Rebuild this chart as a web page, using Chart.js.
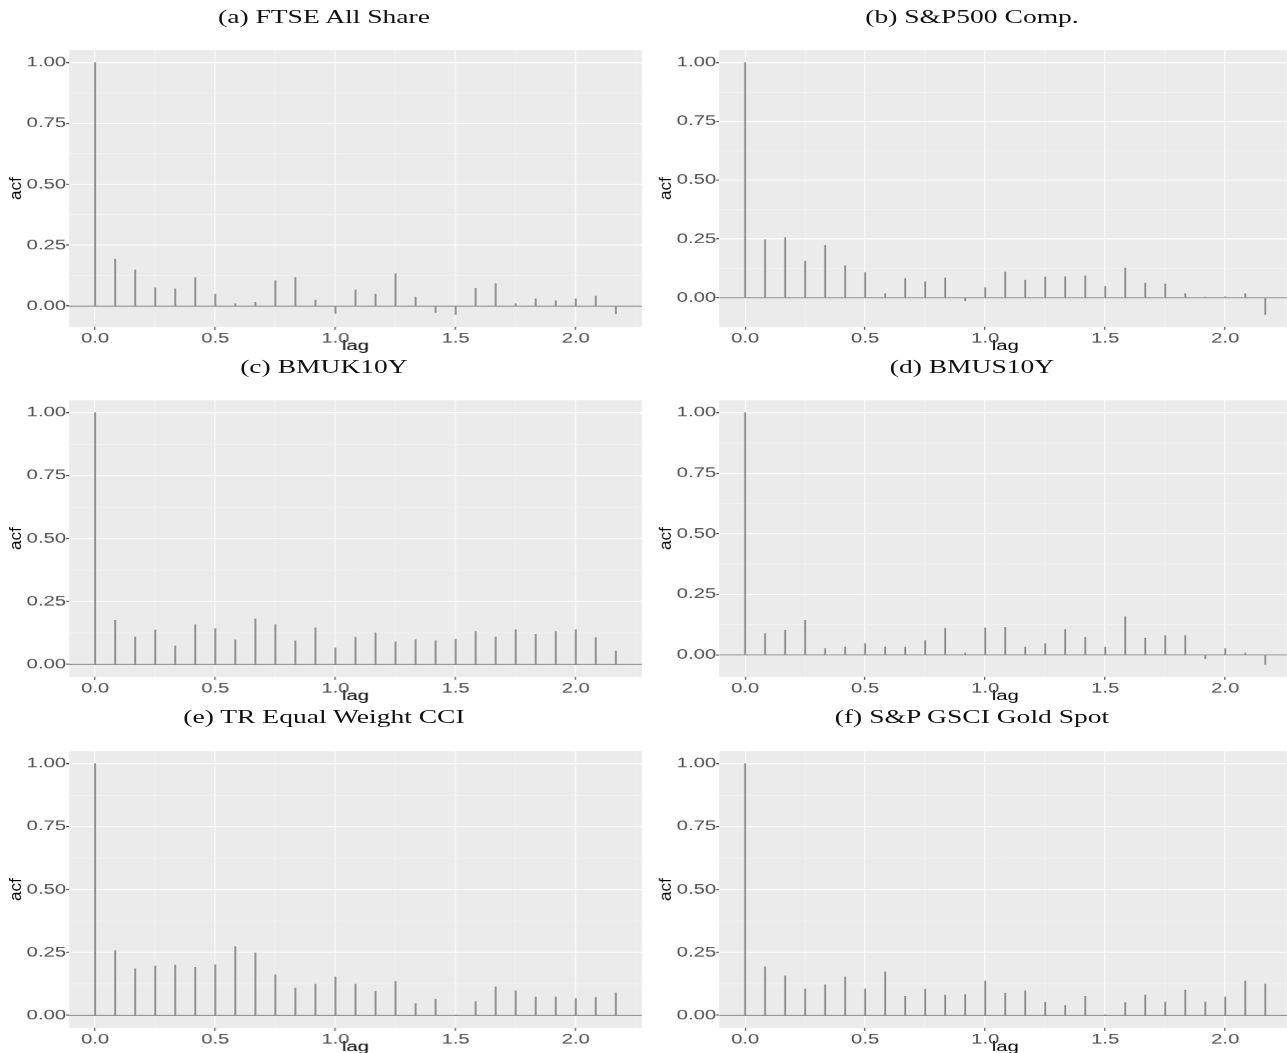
<!DOCTYPE html>
<html>
<head>
<meta charset="utf-8">
<script src="https://cdn.jsdelivr.net/npm/chart.js@4/dist/chart.umd.min.js"></script>
<style>
  html, body { margin: 0; padding: 0; background: #ffffff; overflow: hidden; width: 1287px; height: 1053px; }
  #stage { position: absolute; left: 0; top: 0; height: 1053px; transform-origin: 0 0; }
  #stage canvas { position: absolute; }
  .cap { position: absolute; width: 400px; text-align: center; font-family: "Liberation Serif", "Times New Roman", serif;
         font-size: 19px; line-height: 20px; color: #111; white-space: nowrap; }
</style>
</head>
<body>
<div id="stage"></div>
<script>
// Lags in years (monthly steps)
const lags = [0, 0.0833, 0.1667, 0.25, 0.3333, 0.4167, 0.5, 0.5833, 0.6667, 0.75, 0.8333, 0.9167,
              1, 1.0833, 1.1667, 1.25, 1.3333, 1.4167, 1.5, 1.5833, 1.6667, 1.75, 1.8333, 1.9167,
              2, 2.0833, 2.1667];

// Sample autocorrelations per series
const acfFTSE   = [1, 0.193, 0.148, 0.075, 0.071, 0.117, 0.049, 0.010, 0.016, 0.104, 0.118, 0.025,
                   -0.030, 0.066, 0.049, 0.133, 0.037, -0.026, -0.034, 0.073, 0.092, 0.010, 0.030,
                   0.022, 0.030, 0.041, -0.032];
const acfSP500  = [1, 0.247, 0.256, 0.155, 0.222, 0.136, 0.107, 0.018, 0.081, 0.068, 0.084, -0.014,
                   0.043, 0.109, 0.075, 0.088, 0.089, 0.092, 0.048, 0.126, 0.062, 0.058, 0.018,
                   0.002, 0.004, 0.017, -0.071];
const acfBMUK   = [1, 0.175, 0.109, 0.137, 0.073, 0.158, 0.142, 0.097, 0.181, 0.158, 0.094, 0.145,
                   0.066, 0.108, 0.125, 0.089, 0.098, 0.094, 0.100, 0.130, 0.109, 0.138, 0.120,
                   0.130, 0.138, 0.106, 0.053];
const acfBMUS   = [1, 0.088, 0.102, 0.143, 0.026, 0.033, 0.047, 0.033, 0.032, 0.059, 0.110, 0.008,
                   0.112, 0.114, 0.032, 0.047, 0.105, 0.072, 0.032, 0.158, 0.069, 0.079, 0.081,
                   -0.014, 0.026, 0.007, -0.039];
const acfTRCCI  = [1, 0.257, 0.185, 0.196, 0.200, 0.191, 0.201, 0.273, 0.248, 0.161, 0.108, 0.124,
                   0.153, 0.124, 0.095, 0.136, 0.047, 0.065, 0.001, 0.055, 0.113, 0.097, 0.073,
                   0.073, 0.067, 0.071, 0.089];
const acfGold   = [1, 0.193, 0.157, 0.105, 0.121, 0.152, 0.105, 0.173, 0.076, 0.104, 0.080, 0.083,
                   0.137, 0.088, 0.097, 0.052, 0.040, 0.076, 0.003, 0.051, 0.081, 0.053, 0.101,
                   0.053, 0.073, 0.137, 0.124];

const panelTitles = ["(a) FTSE All Share", "(b) S&P500 Comp.", "(c) BMUK10Y",
                     "(d) BMUS10Y", "(e) TR Equal Weight CCI", "(f) S&P GSCI Gold Spot"];
const panelSeries = [acfFTSE, acfSP500, acfBMUK, acfBMUS, acfTRCCI, acfGold];

// Axis ticks
const yMajor = [0, 0.25, 0.5, 0.75, 1];
const yMinor = [-0.125, 0.125, 0.375, 0.625, 0.875];
const xMajor = [0, 0.5, 1, 1.5, 2];
const xMinor = [0.25, 0.75, 1.25, 1.75, 2.25];

// Layout (horizontal stretch applied to the whole figure)
const SX = 1.45;
const stage = document.getElementById('stage');
stage.style.width = (1287 / SX) + 'px';
stage.style.transform = 'scaleX(' + SX + ')';

const colLeft = [0, 444];
const colWidth = [444, 452];
const axisW = [47.6, 51.9];
const padRight = [1.9, 5.7];
const rowTop = [0, 350, 701];
const capCenterX = [324 / SX, 972 / SX];
const capCenterY = [16.5, 367, 717];
const CANVAS_H = 355;

const BAR = '#8a8a8a';
const ZERO = '#8f8f8f';
const PANEL = '#ebebeb';

const panelBg = {
  id: 'panelBg',
  beforeDraw(chart) {
    const a = chart.chartArea, c = chart.ctx;
    c.save();
    c.fillStyle = PANEL;
    c.fillRect(a.left, a.top, a.right - a.left, a.bottom - a.top);
    c.restore();
  }
};

// Rotated y title, drawn without the horizontal stretch
const yTitle = {
  id: 'yTitle',
  afterDraw(chart) {
    const a = chart.chartArea, c = chart.ctx;
    c.save();
    c.translate(a.left - 53 / SX, (a.top + a.bottom) / 2);
    c.scale(1 / SX, 1);
    c.rotate(-Math.PI / 2);
    c.font = '17px "Liberation Sans", Arial, sans-serif';
    c.fillStyle = '#000000';
    c.textAlign = 'center';
    c.textBaseline = 'middle';
    c.fillText('acf', 0, 0);
    c.restore();
  }
};

function isIn(list, v) { return list.some(m => Math.abs(m - v) < 1e-9); }
function major(list, c) { return !!(c && c.tick && isIn(list, c.tick.value)); }

function makePanel(i) {
  const col = i % 2, row = Math.floor(i / 2);
  const vals = panelSeries[i];

  const cap = document.createElement('div');
  cap.className = 'cap';
  cap.textContent = panelTitles[i];
  cap.style.left = (capCenterX[col] - 200) + 'px';
  cap.style.top = (capCenterY[row] - 10) + 'px';
  stage.appendChild(cap);

  const cv = document.createElement('canvas');
  cv.style.width = colWidth[col] + 'px';
  cv.style.height = CANVAS_H + 'px';
  cv.width = colWidth[col];
  cv.height = CANVAS_H;
  cv.style.left = colLeft[col] + 'px';
  cv.style.top = rowTop[row] + 'px';
  stage.appendChild(cv);

  // ggplot-style 5% expansion of the data range
  const lo = Math.min(0, ...vals), hi = Math.max(0, ...vals);
  const yMin = lo - 0.05 * (hi - lo), yMax = hi + 0.05 * (hi - lo);
  const xLo = lags[0], xHi = lags[lags.length - 1];
  const xMin = xLo - 0.05 * (xHi - xLo), xMax = xHi + 0.05 * (xHi - xLo);

  new Chart(cv, {
    data: {
      datasets: [
        {
          type: 'line',
          data: [{ x: xMin, y: 0 }, { x: xMax, y: 0 }],
          borderColor: ZERO, borderWidth: 1, pointRadius: 0, order: 2
        },
        {
          type: 'bar',
          data: lags.map((x, k) => ({ x: x, y: vals[k] })),
          backgroundColor: BAR, borderWidth: 0, barThickness: 0.6, order: 1
        }
      ]
    },
    options: {
      responsive: false,
      animation: false,
      // extra horizontal resolution so the stretched canvas stays crisp
      devicePixelRatio: SX,
      layout: { padding: { top: 50, left: 0, right: padRight[col], bottom: 1 } },
      plugins: { legend: { display: false }, tooltip: { enabled: false } },
      scales: {
        x: {
          type: 'linear', min: xMin, max: xMax, offset: false,
          afterBuildTicks(s) {
            s.ticks = xMajor.concat(xMinor).filter(v => v >= xMin && v <= xMax)
              .sort((p, q) => p - q).map(v => ({ value: v }));
          },
          afterFit(s) { s.height = 27.5; },
          border: { display: false },
          grid: {
            offset: false,
            color: c => major(xMajor, c) ? '#ffffff' : '#f5f5f5',
            lineWidth: c => major(xMajor, c) ? 0.69 : 0.45,
            tickColor: c => major(xMajor, c) ? '#333333' : 'rgba(0,0,0,0)',
            tickLength: 3, tickWidth: 0.69
          },
          ticks: {
            autoSkip: false, maxRotation: 0, minRotation: 0, padding: 0,
            color: '#4d4d4d',
            font: { family: '"Liberation Sans", Arial, sans-serif', size: 14 },
            callback: v => isIn(xMajor, v) ? v.toFixed(1) : ''
          },
          title: {
            display: true, text: 'lag', color: '#000000',
            font: { family: '"Liberation Sans", Arial, sans-serif', size: 14, lineHeight: 1.2 },
            padding: { top: 0, bottom: 0 }
          }
        },
        y: {
          type: 'linear', min: yMin, max: yMax,
          afterBuildTicks(s) {
            s.ticks = yMajor.concat(yMinor).filter(v => v >= yMin && v <= yMax)
              .sort((p, q) => p - q).map(v => ({ value: v }));
          },
          afterFit(s) { s.width = axisW[col]; },
          border: { display: false },
          grid: {
            offset: false,
            color: c => major(yMajor, c) ? '#ffffff' : '#f5f5f5',
            lineWidth: c => major(yMajor, c) ? 1 : 0.6,
            tickColor: c => major(yMajor, c) ? '#333333' : 'rgba(0,0,0,0)',
            tickLength: 2, tickWidth: 1
          },
          ticks: {
            autoSkip: false, padding: 0,
            color: '#4d4d4d',
            font: { family: '"Liberation Sans", Arial, sans-serif', size: 14 },
            callback: v => isIn(yMajor, v) ? v.toFixed(2) : ''
          }
        }
      }
    },
    plugins: [panelBg, yTitle]
  });
}

for (let i = 0; i < 6; i++) makePanel(i);
</script>
</body>
</html>
